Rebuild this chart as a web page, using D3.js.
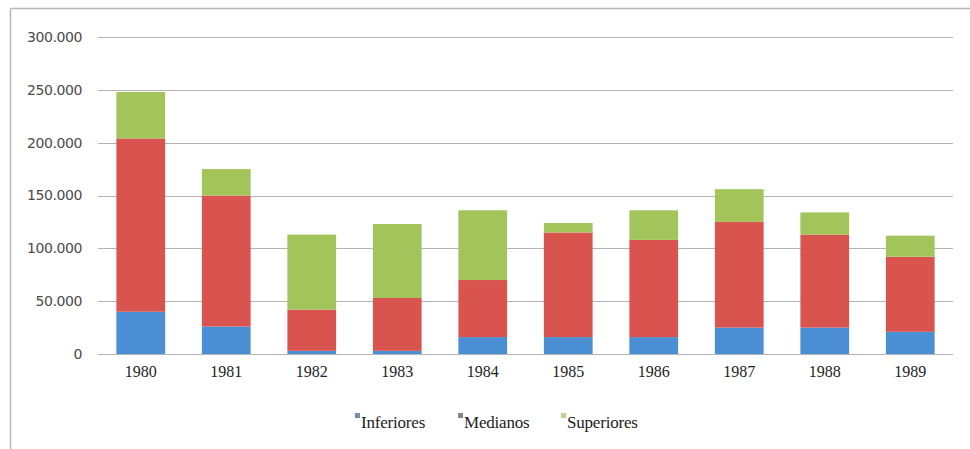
<!DOCTYPE html>
<html>
<head>
<meta charset="utf-8">
<script src="https://cdn.jsdelivr.net/npm/d3@7"></script>
<style>
  html, body { margin: 0; padding: 0; background: #fff; }
  svg { display: block; }
</style>
</head>
<body>
<svg id="chart" width="970" height="449"></svg>
<script>
// Years on the category axis
const years = ["1980", "1981", "1982", "1983", "1984", "1985", "1986", "1987", "1988", "1989"];
// Stacked series, bottom to top
const inferiores = [40000, 26000, 3000, 3000, 16000, 16000, 16000, 25000, 25000, 21000];
const medianos   = [164000, 124000, 39000, 50000, 54000, 99000, 92000, 100000, 88000, 71000];
const superiores = [44000, 25000, 71000, 70000, 66000, 9000, 28000, 31000, 21000, 20000];
const seriesNames = ["Inferiores", "Medianos", "Superiores"];
const yTicks = [0, 50000, 100000, 150000, 200000, 250000, 300000];

const barColors = ["#4a8ed4", "#d9534f", "#a3c45a"];
const legendColors = ["#6f8fb0", "#8a8585", "#b9d48c"];

const svg = d3.select("#chart");
const W = 970, H = 449;
const margin = { left: 98, right: 17, top: 37, bottom: 95 };

// Frame: top and left edges
svg.append("line").attr("x1", 10.5).attr("x2", W).attr("y1", 8.5).attr("y2", 8.5)
  .attr("stroke", "#b8b8b8").attr("stroke-width", 1.5);
svg.append("line").attr("x1", 10.5).attr("x2", 10.5).attr("y1", 8.5).attr("y2", H)
  .attr("stroke", "#b8b8b8").attr("stroke-width", 1.5);

const x = d3.scaleBand().domain(years).range([margin.left, W - margin.right]).paddingInner(0.43).paddingOuter(0.215);
const y = d3.scaleLinear().domain([0, 300000]).range([H - margin.bottom, margin.top]);

// Gridlines
svg.append("g").selectAll("line").data(yTicks).join("line")
  .attr("x1", margin.left).attr("x2", W - margin.right)
  .attr("y1", d => Math.round(y(d)) + 0.5).attr("y2", d => Math.round(y(d)) + 0.5)
  .attr("stroke", "#b4b4b4").attr("stroke-width", 1.2);

// Y axis labels
const fmt = d => d === 0 ? "0" : d3.format(",")(d).replace(/,/g, ".");
const yAxis = d3.axisLeft(y).tickValues(yTicks).tickFormat(fmt).tickSize(0).tickPadding(16);
const gy = svg.append("g").attr("transform", `translate(${margin.left},0)`).call(yAxis);
gy.select(".domain").remove();
gy.selectAll("text").attr("font-family", "'DejaVu Sans', sans-serif")
  .attr("font-size", 14).attr("fill", "#4a4a4a").attr("letter-spacing", "-0.4px");

// Stacked bars
const rows = years.map((yr, i) => ({ year: yr, Inferiores: inferiores[i], Medianos: medianos[i], Superiores: superiores[i] }));
const stacked = d3.stack().keys(seriesNames)(rows);
svg.append("g").selectAll("g").data(stacked).join("g")
  .attr("fill", (d, i) => barColors[i])
  .selectAll("rect").data(d => d).join("rect")
  .attr("x", d => x(d.data.year))
  .attr("width", x.bandwidth())
  .attr("y", d => y(d[1]))
  .attr("height", d => y(d[0]) - y(d[1]));

// X axis labels
const xAxis = d3.axisBottom(x).tickSize(0).tickPadding(12);
const gx = svg.append("g").attr("transform", `translate(0,${H - margin.bottom})`).call(xAxis);
gx.select(".domain").remove();
gx.selectAll("text").attr("font-family", "'Liberation Serif', serif")
  .attr("font-size", 16).attr("fill", "#222");

// Legend
const legendX = [355, 458, 561];
const lg = svg.append("g").selectAll("g").data(seriesNames).join("g")
  .attr("transform", (d, i) => `translate(${legendX[i]},423)`);
lg.append("rect").attr("x", 0).attr("y", -10).attr("width", 5).attr("height", 5)
  .attr("fill", (d, i) => legendColors[i]);
lg.append("text").attr("x", 6).attr("y", 5).text(d => d)
  .attr("font-family", "'Liberation Serif', serif").attr("font-size", 17).attr("fill", "#222")
  .attr("letter-spacing", "-0.2px");
</script>
</body>
</html>
